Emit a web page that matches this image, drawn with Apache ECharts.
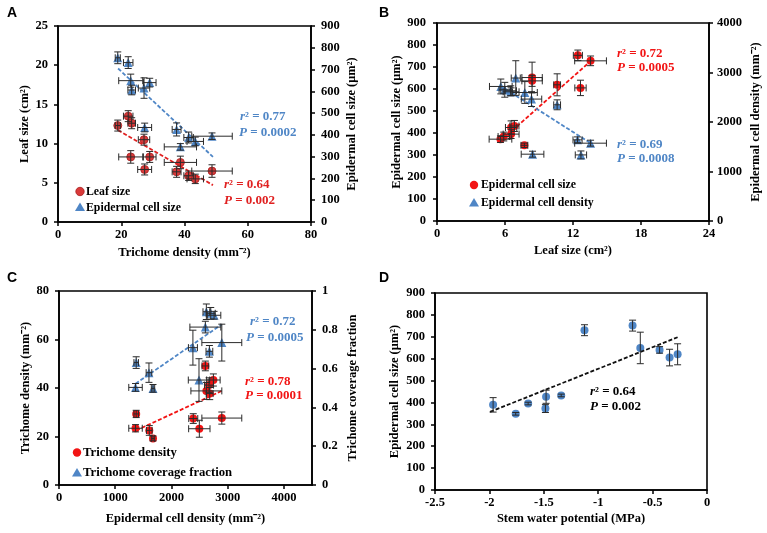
<!DOCTYPE html>
<html><head><meta charset="utf-8">
<script src="https://cdn.jsdelivr.net/npm/echarts@6/dist/echarts.min.js"></script>
<style>html,body{margin:0;padding:0;background:#fff}#c{width:767px;height:533px}</style>
</head><body><div id="c"></div>
<script>
// ---------- Panel A: Trichome density vs leaf size / epidermal cell size ----------
const aTrichome     = [18.9, 22.2, 23.3, 27.2, 23.0, 29.0, 27.4, 38.7, 37.5, 41.3, 43.4, 48.7];
const aTrichomeErr  = [0.8, 1.5, 1.2, 1.8, 3.8, 2.0, 2.2, 5.1, 1.4, 1.5, 2.6, 6.4];
const aLeafSize     = [12.3, 13.5, 12.6, 10.5, 8.3, 8.3, 6.7, 7.6, 6.4, 5.9, 5.5, 6.5];
const aLeafSizeErr  = [0.7, 0.7, 0.7, 0.7, 0.8, 0.7, 0.7, 0.8, 0.7, 0.6, 0.6, 0.8];
const aCellSize     = [754, 732, 606, 615, 649, 640, 434, 345, 425, 388, 370, 394];
const aCellSizeErr  = [27, 27, 22, 47, 30, 20, 20, 15, 30, 25, 20, 15];
const aLeafTrend    = [[19, 11.7], [49, 4.7]];
const aCellTrend    = [[19, 705], [49, 299]];

// ---------- Panel B: Leaf size vs epidermal cell size / density ----------
const bLeafSize      = [12.43, 13.55, 8.39, 8.39, 10.6, 12.66, 6.83, 6.54, 6.54, 5.89, 5.6, 7.71];
const bLeafSizeErr   = [0.4, 1.4, 0.9, 0.9, 0.3, 0.5, 0.4, 0.5, 0.7, 0.5, 1.0, 0.3];
const bCellSize      = [753, 728, 652, 637, 619, 605, 432, 425, 395, 384, 372, 344];
const bCellSizeErr   = [24, 22, 70, 25, 50, 35, 25, 30, 20, 20, 15, 10];
const bLeafSize2     = [5.63, 5.98, 6.51, 6.95, 7.75, 8.34, 10.6, 12.4, 13.55, 12.7, 8.43, 6.54];
const bLeafSize2Err  = [1.0, 0.5, 0.5, 0.4, 1.1, 0.9, 0.3, 0.4, 1.4, 0.5, 1.0, 0.7];
const bCellDensity   = [2718, 2651, 2631, 2888, 2596, 2463, 2347, 1639, 1572, 1335, 1350, 2610];
const bCellDensErr   = [150, 150, 100, 350, 220, 150, 100, 60, 60, 80, 60, 80];
const bSizeTrend     = [[5.45, 357], [13.7, 733]];
const bDensTrend     = [[5.6, 2730], [13.5, 1580]];

// ---------- Panel C: Epidermal cell density vs trichome density / coverage ----------
const cCellDensity   = [2603, 2746, 2669, 2621, 2681, 1373, 2388, 2896, 1361, 2496, 1606, 1672];
const cCellDensErr   = [60, 120, 80, 275, 60, 40, 80, 355, 120, 190, 50, 30];
const cTrichome      = [49.1, 43.3, 41.2, 38.8, 37.7, 29.3, 27.4, 27.6, 23.4, 23.2, 22.5, 19.2];
const cTrichomeErr   = [2, 2.5, 3, 3.5, 2.5, 1.5, 2, 2.5, 1.5, 3.5, 2, 1];
const cCellDensity2  = [2621, 2699, 2758, 2603, 2382, 2896, 2675, 1373, 1600, 2490, 1361, 1672];
const cCellDens2Err  = [60, 80, 120, 275, 80, 355, 60, 40, 50, 190, 120, 30];
const cCoverage      = [0.893, 0.885, 0.875, 0.814, 0.708, 0.734, 0.689, 0.631, 0.579, 0.541, 0.503, 0.498];
const cCoverageErr   = [0.04, 0.03, 0.02, 0.03, 0.09, 0.095, 0.03, 0.03, 0.05, 0.11, 0.02, 0.02];
const cTrichTrend    = [[1373, 22.5], [2896, 38.8]];
const cCovTrend      = [[1361, 0.522], [2896, 0.828]];

// ---------- Panel D: Stem water potential vs epidermal cell size ----------
const dWaterPot      = [-1.966, -1.758, -1.644, -1.479, -1.485, -1.340, -1.126, -0.684, -0.613, -0.436, -0.344, -0.270];
const dCellSize      = [389, 348, 395, 426, 372, 432, 730, 751, 649, 640, 605, 620];
const dCellSizeErr   = [33, 6, 6, 30, 18, 6, 25, 25, 72, 15, 38, 48];
const dTrend         = [[-1.994, 357], [-0.27, 698]];

const RED_A = '#D93A3A', RED = '#F21414', BLUE = '#4F86C6';
const SERIF = '"Liberation Serif", "Times New Roman", serif';

function zip(xs, ys) { return xs.map((x, i) => [x, ys[i]]); }
function errData(xs, ys, exs, eys) { return xs.map((x, i) => [x, ys[i], exs ? exs[i] : 0, eys ? eys[i] : 0]); }

function errRender(params, api) {
  const x = api.value(0), y = api.value(1), ex = api.value(2), ey = api.value(3);
  const c = api.coord([x, y]);
  const style = { stroke: '#2a2a2a', lineWidth: 1 };
  const cap = 3.5;
  const ch = [];
  if (ex > 0) {
    const l = api.coord([x - ex, y])[0], r = api.coord([x + ex, y])[0];
    ch.push({ type: 'line', shape: { x1: l, y1: c[1], x2: r, y2: c[1] }, style });
    ch.push({ type: 'line', shape: { x1: l, y1: c[1] - cap, x2: l, y2: c[1] + cap }, style });
    ch.push({ type: 'line', shape: { x1: r, y1: c[1] - cap, x2: r, y2: c[1] + cap }, style });
  }
  if (ey > 0) {
    const t = api.coord([x, y + ey])[1], b = api.coord([x, y - ey])[1];
    ch.push({ type: 'line', shape: { x1: c[0], y1: t, x2: c[0], y2: b }, style });
    ch.push({ type: 'line', shape: { x1: c[0] - cap, y1: t, x2: c[0] + cap, y2: t }, style });
    ch.push({ type: 'line', shape: { x1: c[0] - cap, y1: b, x2: c[0] + cap, y2: b }, style });
  }
  return { type: 'group', children: ch };
}

const fmt = v => String(+(+v).toFixed(6));
const labelStyle = { color: '#000', fontFamily: SERIF, fontWeight: 'bold', fontSize: 12.5, formatter: fmt };
const nameStyle = { color: '#000', fontFamily: SERIF, fontWeight: 'bold', fontSize: 12.5 };
const lineStyle = { show: true, lineStyle: { color: '#000', width: 1.6 } };
const tickStyle = { show: true, length: 4, lineStyle: { color: '#000', width: 1.5 } };

function xAx(grid, min, max, interval, name, gap, extra) {
  return Object.assign({ type: 'value', gridIndex: grid, min, max, interval, name, nameLocation: 'middle', nameGap: gap,
    nameTextStyle: nameStyle, axisLine: Object.assign({ onZero: false }, lineStyle), axisTick: tickStyle,
    axisLabel: Object.assign({ margin: 6 }, labelStyle), splitLine: { show: false } }, extra || {});
}
function yAx(grid, min, max, interval, name, gap, pos, margin) {
  return { type: 'value', gridIndex: grid, position: pos, min, max, interval, name, nameLocation: 'middle', nameGap: gap,
    nameRotate: 90, nameTextStyle: nameStyle, axisLine: Object.assign({ onZero: false }, lineStyle), axisTick: tickStyle,
    axisLabel: Object.assign({ margin: margin || 9 }, labelStyle), splitLine: { show: false } };
}

function scatter(name, xi, yi, data, symbol, color, size, border) {
  return { name, type: 'scatter', xAxisIndex: xi, yAxisIndex: yi, data, symbol, symbolSize: size, z: 3,
    itemStyle: { color, borderColor: border || color, borderWidth: border ? 0.8 : 0, opacity: 1 } };
}
function trend(xi, yi, data, color) {
  return { type: 'line', xAxisIndex: xi, yAxisIndex: yi, data, showSymbol: false, symbol: 'none', z: 4, silent: true,
    lineStyle: { color, width: 1.8, type: [4, 2] } };
}
function errs(xi, yi, data) {
  return { type: 'custom', xAxisIndex: xi, yAxisIndex: yi, data, renderItem: errRender, z: 5, silent: true };
}
function annot(x, y, txt, color) {
  return { type: 'text', left: x, top: y, style: { text: txt, fill: color, font: 'bold 13px ' + SERIF,
    rich: { i: { fontStyle: 'italic', fontWeight: 'bold', fontFamily: SERIF, fontSize: 13, fill: color },
            n: { fontWeight: 'bold', fontFamily: SERIF, fontSize: 13, fill: color } } } };
}
function rLine(x, y, r, color) { return annot(x, y, '{i|r}{n|² = ' + r + '}', color); }
function pLine(x, y, p, color) { return annot(x, y, '{i|P}{n| = ' + p + '}', color); }
function letter(x, y, t) { return { type: 'text', left: x, top: y, style: { text: t, fill: '#000', font: 'bold 14px "Liberation Sans", Arial, sans-serif' } }; }

// custom legend entries (marker + text)
function legCircle(cx, cy, color, border) {
  return { type: 'circle', shape: { cx, cy, r: 4.2 }, style: { fill: color, stroke: border || color, lineWidth: border ? 0.8 : 0 } };
}
function legTri(cx, cy, color) {
  return { type: 'polygon', shape: { points: [[cx, cy - 4.5], [cx + 5, cy + 4], [cx - 5, cy + 4]] }, style: { fill: color } };
}
function legText(x, cy, t, size) {
  return { type: 'text', x, y: cy, style: { text: t, fill: '#000', font: 'bold ' + size + 'px ' + SERIF, verticalAlign: 'middle', align: 'left' } };
}

const gridBorder = { show: true, borderColor: '#000', borderWidth: 1.6, backgroundColor: 'transparent' };

const option = {
  animation: false,
  backgroundColor: '#fff',
  grid: [
    Object.assign({ left: 58, top: 26, width: 253, height: 196 }, gridBorder),
    Object.assign({ left: 437, top: 23, width: 272, height: 198 }, gridBorder),
    Object.assign({ left: 59, top: 291, width: 253, height: 194 }, gridBorder),
    Object.assign({ left: 435, top: 293, width: 272, height: 197 }, gridBorder)
  ],
  xAxis: [
    xAx(0, 0, 80, 20, 'Trichome density (mm⁻²)', 24),
    xAx(1, 0, 24, 6, 'Leaf size (cm²)', 23),
    xAx(2, 0, 4500, 1000, 'Epidermal cell density (mm⁻²)', 27, { axisLabel: Object.assign({ margin: 6, showMaxLabel: false }, labelStyle) }),
    xAx(3, -2.5, 0, 0.5, 'Stem water potential (MPa)', 22)
  ],
  yAxis: [
    yAx(0, 0, 25, 5, 'Leaf size (cm²)', 24, 'left', 10),
    yAx(0, 0, 900, 100, 'Epidermal cell size (μm²)', 34, 'right', 10),
    yAx(1, 0, 900, 100, 'Epidermal cell size (μm²)', 32, 'left', 11),
    yAx(1, 0, 4000, 1000, 'Epidermal cell density (mm⁻²)', 40, 'right', 8),
    yAx(2, 0, 80, 20, 'Trichome density (mm⁻²)', 25, 'left', 10),
    yAx(2, 0, 1, 0.2, 'Trichome coverage fraction', 34, 'right', 10),
    yAx(3, 0, 900, 100, 'Epidermal cell size (μm²)', 34, 'left', 10)
  ],
  series: [
    // A
    scatter('Leaf size', 0, 0, zip(aTrichome, aLeafSize), 'circle', RED_A, 8, '#A82020'),
    scatter('Epidermal cell size', 0, 1, zip(aTrichome, aCellSize), 'triangle', BLUE, 9),
    trend(0, 0, aLeafTrend, '#E02020'),
    trend(0, 1, aCellTrend, BLUE),
    errs(0, 0, errData(aTrichome, aLeafSize, aTrichomeErr, aLeafSizeErr)),
    errs(0, 1, errData(aTrichome, aCellSize, aTrichomeErr, aCellSizeErr)),
    // B
    scatter('Epidermal cell size (B)', 1, 2, zip(bLeafSize, bCellSize), 'circle', RED, 8),
    scatter('Epidermal cell density', 1, 3, zip(bLeafSize2, bCellDensity), 'triangle', BLUE, 9),
    trend(1, 2, bSizeTrend, RED),
    trend(1, 3, bDensTrend, BLUE),
    errs(1, 2, errData(bLeafSize, bCellSize, bLeafSizeErr, bCellSizeErr)),
    errs(1, 3, errData(bLeafSize2, bCellDensity, bLeafSize2Err, bCellDensErr)),
    // C
    scatter('Trichome density', 2, 4, zip(cCellDensity, cTrichome), 'circle', RED, 8),
    scatter('Trichome coverage fraction', 2, 5, zip(cCellDensity2, cCoverage), 'triangle', BLUE, 9),
    trend(2, 4, cTrichTrend, RED),
    trend(2, 5, cCovTrend, BLUE),
    errs(2, 4, errData(cCellDensity, cTrichome, cCellDensErr, cTrichomeErr)),
    errs(2, 5, errData(cCellDensity2, cCoverage, cCellDens2Err, cCoverageErr)),
    // D
    scatter('Epidermal cell size (D)', 3, 6, zip(dWaterPot, dCellSize), 'circle', BLUE, 8),
    trend(3, 6, dTrend, '#111'),
    errs(3, 6, errData(dWaterPot, dCellSize, null, dCellSizeErr))
  ],
  graphic: [
    letter(7, 6, 'A'), letter(379, 6, 'B'), letter(7, 271, 'C'), letter(379, 271, 'D'),
    rLine(240, 110, '0.77', BLUE), pLine(239, 126, '0.0002', BLUE),
    rLine(224, 178, '0.64', '#E02020'), pLine(224, 194, '0.002', '#E02020'),
    rLine(617, 47, '0.72', RED), pLine(617, 61, '0.0005', RED),
    rLine(617, 138, '0.69', BLUE), pLine(617, 152, '0.0008', BLUE),
    rLine(250, 315, '0.72', BLUE), pLine(246, 331, '0.0005', BLUE),
    rLine(245, 375, '0.78', RED), pLine(245, 389, '0.0001', RED),
    rLine(590, 385, '0.64', '#000'), pLine(590, 400, '0.002', '#000'),
    // legends
    legCircle(80, 191.5, RED_A, '#A82020'), legText(86, 191.5, 'Leaf size', 11.8),
    legTri(80, 207, BLUE), legText(86, 207.5, 'Epidermal cell size', 11.8),
    legCircle(474, 185, RED), legText(481, 185, 'Epidermal cell size', 11.8),
    legTri(474, 202.5, BLUE), legText(481, 203, 'Epidermal cell density', 11.8),
    legCircle(77, 452.5, RED), legText(83, 452.5, 'Trichome density', 12.7),
    legTri(77, 472.5, BLUE), legText(83, 473, 'Trichome coverage fraction', 12.7)
  ]
};

const chart = echarts.init(document.getElementById('c'), null, { renderer: 'canvas' });
chart.setOption(option);
</script>
</body></html>
